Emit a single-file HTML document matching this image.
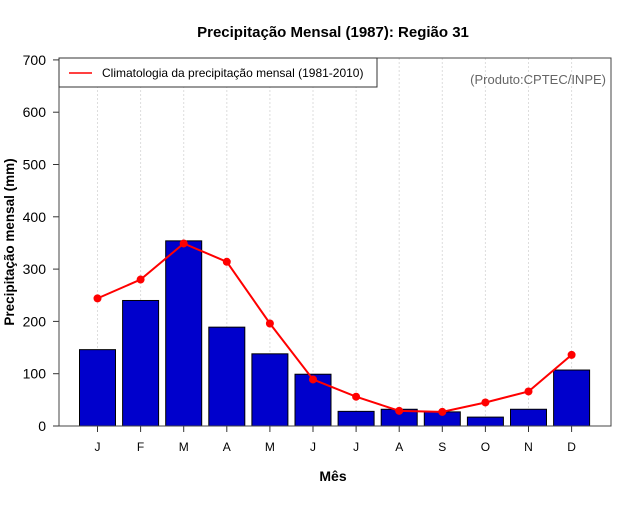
<!DOCTYPE html>
<html><head><meta charset="utf-8"><style>
body{margin:0;background:#fff;font-family:"Liberation Sans",sans-serif}
svg text{font-family:"Liberation Sans",sans-serif}
</style></head><body>
<svg id="c" width="640" height="500" xmlns="http://www.w3.org/2000/svg">
<text x="333" y="37" text-anchor="middle" font-size="15" font-weight="bold">Precipitação Mensal (1987): Região 31</text>
<text x="14" y="242" transform="rotate(-90 14 242)" text-anchor="middle" font-size="13.5" font-weight="bold">Precipitação mensal (mm)</text>
<text x="333" y="481" text-anchor="middle" font-size="14" font-weight="bold">Mês</text>
<g id="grid"></g><g id="bars"></g><g id="line"></g><g id="axes"></g>
<rect x="59" y="58" width="552" height="368" fill="none" stroke="#444" stroke-width="1"/>
<g>
<rect x="59" y="58" width="318" height="29" fill="#fff" stroke="#333"/>
<line x1="69" y1="73" x2="92" y2="73" stroke="red" stroke-width="1.5"/>
<text x="102" y="77" font-size="12">Climatologia da precipitação mensal (1981-2010)</text>
</g>
<text x="606" y="84" text-anchor="end" font-size="13" fill="#666">(Produto:CPTEC/INPE)</text>
</svg>
<script>
const months=["J","F","M","A","M","J","J","A","S","O","N","D"];
const observed=[146,240,354,189,138,99,28,32,27,17,32,107];
const climatology=[244,280,349,314,196,89,56,29,27,45,66,136];
const yTicks=[0,100,200,300,400,500,600,700];
const NS="http://www.w3.org/2000/svg";
const xs=i=>97.5+i*43.1;
const ys=v=>426-v*0.523;
function mk(t,a,p){const e=document.createElementNS(NS,t);for(const k in a)e.setAttribute(k,a[k]);p.appendChild(e);return e;}
const grid=document.getElementById('grid'),bars=document.getElementById('bars'),line=document.getElementById('line'),axes=document.getElementById('axes');
months.forEach((m,i)=>{
 const g=mk('line',{x1:xs(i),x2:xs(i),y1:58,y2:426,stroke:'#ddd','stroke-dasharray':'2,2'},grid);
 
 
 const b=mk('rect',{x:xs(i)-18,y:ys(observed[i]),width:36,height:426-ys(observed[i]),fill:'#0000cc',stroke:'#000','stroke-width':1},bars);
 
 
 const t=mk('line',{x1:xs(i),x2:xs(i),y1:426,y2:432,stroke:'#333'},axes);
 
 
 const l=mk('text',{x:xs(i),y:451,'text-anchor':'middle','font-size':12},axes);
 l.textContent=m;
 
 
});
const pl=mk('polyline',{points:climatology.map((v,i)=>xs(i)+','+ys(v)).join(' '),fill:'none',stroke:'red','stroke-width':2},line);


climatology.forEach((v,i)=>{
 const c=mk('circle',{cx:xs(i),cy:ys(v),r:4,fill:'red'},line);
 
 
});
mk('line',{x1:59,x2:611,y1:426,y2:426,stroke:'#000'},axes);
yTicks.forEach(v=>{
 const t=mk('line',{x1:53,x2:59,y1:ys(v),y2:ys(v),stroke:'#333'},axes);
 
 
 const l=mk('text',{x:46,y:ys(v)+5,'text-anchor':'end','font-size':14},axes);
 l.textContent=v;
 
 
});
</script>
</body></html>
